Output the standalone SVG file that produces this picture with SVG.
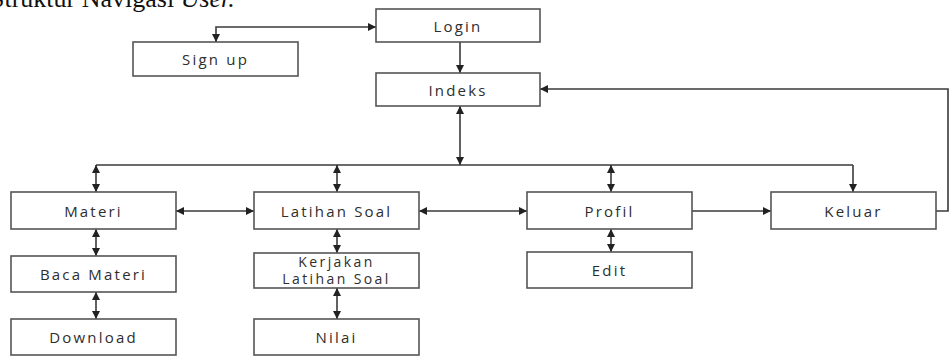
<svg xmlns="http://www.w3.org/2000/svg" width="949" height="356" viewBox="0 0 949 356">
<style>
  .box rect { fill: #ffffff; stroke: #555555; stroke-width: 1.6; }
  .box text { font-family: "Open Sans", "Liberation Sans", sans-serif; font-size: 15px; fill: #2e2e2e; text-anchor: middle; letter-spacing: 2.2px; dominant-baseline: central; }
  .box text.sm { font-size: 14px; letter-spacing: 2.4px; dominant-baseline: auto; }
  .conn path { fill: none; stroke: #3a3a3a; stroke-width: 1.6; }
  .title { font-family: "Liberation Serif", serif; font-size: 26px; fill: #111111; }
</style>
<defs>
  <marker id="ah" viewBox="0 0 10 10" refX="10" refY="5" markerWidth="8" markerHeight="8" markerUnits="userSpaceOnUse" orient="auto-start-reverse">
    <path d="M0,0 L10,5 L0,10 z" fill="#222222"/>
  </marker>
</defs>
<text class="title" x="-10" y="7">Struktur Navigasi <tspan font-style="italic">User.</tspan></text>
<g class="conn">
  <path d="M216,42 V27 H376" marker-start="url(#ah)" marker-end="url(#ah)"/>
  <path d="M460,42 V73" marker-end="url(#ah)"/>
  <path d="M460,106 V165" marker-start="url(#ah)" marker-end="url(#ah)"/>
  <path d="M96,165 H853"/>
  <path d="M96,165 V192" marker-start="url(#ah)" marker-end="url(#ah)"/>
  <path d="M337,165 V192" marker-start="url(#ah)" marker-end="url(#ah)"/>
  <path d="M611,165 V192" marker-start="url(#ah)" marker-end="url(#ah)"/>
  <path d="M853,165 V192" marker-end="url(#ah)"/>
  <path d="M176,211 H254" marker-start="url(#ah)" marker-end="url(#ah)"/>
  <path d="M419,211 H527" marker-start="url(#ah)" marker-end="url(#ah)"/>
  <path d="M692,211 H771" marker-end="url(#ah)"/>
  <path d="M936,211 H948 V89 H540" marker-end="url(#ah)"/>
  <path d="M96,229 V256" marker-start="url(#ah)" marker-end="url(#ah)"/>
  <path d="M96,292 V319" marker-start="url(#ah)" marker-end="url(#ah)"/>
  <path d="M337,229 V253" marker-start="url(#ah)" marker-end="url(#ah)"/>
  <path d="M337,288 V319" marker-start="url(#ah)" marker-end="url(#ah)"/>
  <path d="M611,229 V252" marker-start="url(#ah)" marker-end="url(#ah)"/>
</g>
<g id="signup" class="box"><rect x="133" y="42" width="165" height="34"/><text x="215.5" y="59">Sign up</text></g>
<g id="login" class="box"><rect x="376" y="9" width="164" height="33"/><text x="458" y="25.5">Login</text></g>
<g id="indeks" class="box"><rect x="376" y="73" width="164" height="33"/><text x="458" y="89.5">Indeks</text></g>
<g id="materi" class="box"><rect x="11" y="192" width="165" height="37"/><text x="93.5" y="210.5">Materi</text></g>
<g id="latihan" class="box"><rect x="254" y="192" width="165" height="37"/><text x="336.5" y="210.5">Latihan Soal</text></g>
<g id="profil" class="box"><rect x="527" y="192" width="165" height="37"/><text x="609.5" y="210.5">Profil</text></g>
<g id="keluar" class="box"><rect x="771" y="192" width="165" height="37"/><text x="853.5" y="210.5">Keluar</text></g>
<g id="baca" class="box"><rect x="11" y="256" width="165" height="36"/><text x="93.5" y="274">Baca Materi</text></g>
<g id="download" class="box"><rect x="11" y="319" width="165" height="36"/><text x="93.5" y="337">Download</text></g>
<g id="kerjakan" class="box"><rect x="254" y="253" width="165" height="35"/><text class="sm" x="336.5" y="267"><tspan x="336.5" y="267">Kerjakan</tspan><tspan x="336.5" y="284">Latihan Soal</tspan></text></g>
<g id="nilai" class="box"><rect x="254" y="319" width="165" height="36"/><text x="336.5" y="337">Nilai</text></g>
<g id="edit" class="box"><rect x="527" y="252" width="165" height="36"/><text x="609.5" y="270">Edit</text></g>
</svg>
